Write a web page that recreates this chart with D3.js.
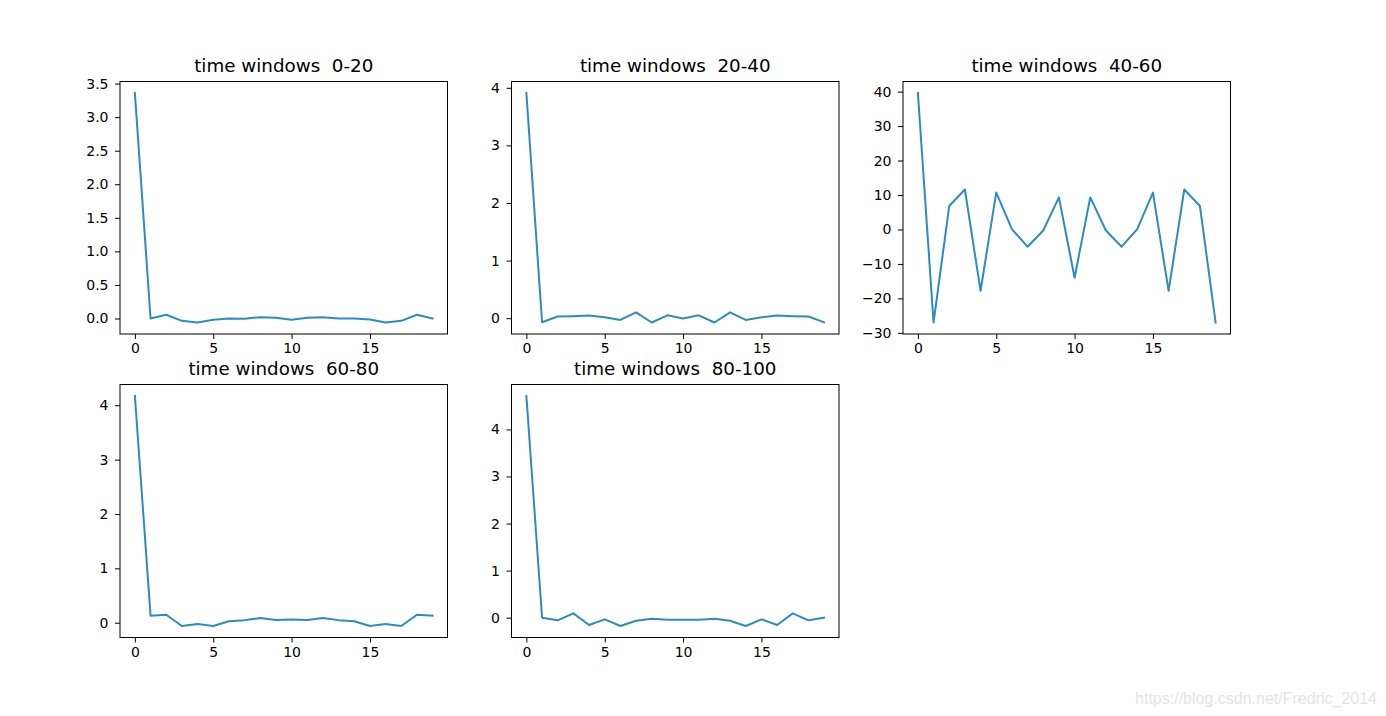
<!DOCTYPE html>
<html>
<head>
<meta charset="utf-8">
<script src="https://cdn.jsdelivr.net/npm/d3@7"></script>
<style>
  html, body { margin: 0; padding: 0; background: #fff; }
  svg { display: block; }
  .ttl { white-space: pre; }
</style>
</head>
<body>
<svg id="chart" width="1386" height="716"></svg>
<script>
// ---- data ----
const xIndex = d3.range(20);
const titles = ["time windows  0-20", "time windows  20-40", "time windows  40-60", "time windows  60-80", "time windows  80-100"];
const series0 = [3.36, 0.0, 0.055, -0.035, -0.06, -0.02, 0.0, -0.005, 0.02, 0.01, -0.02, 0.01, 0.02, 0.0, 0.0, -0.015, -0.06, -0.035, 0.055, 0.0];
const series1 = [3.91, -0.07, 0.03, 0.035, 0.045, 0.015, -0.03, 0.1, -0.075, 0.05, -0.005, 0.05, -0.075, 0.1, -0.03, 0.015, 0.045, 0.035, 0.03, -0.07];
const series2 = [39.6, -27.0, 6.8, 11.6, -17.8, 10.7, 0.1, -5.0, -0.3, 9.3, -14.0, 9.3, -0.3, -5.0, 0.1, 10.7, -17.8, 11.6, 6.8, -27.0];
const series3 = [4.17, 0.13, 0.147, -0.06, -0.025, -0.06, 0.028, 0.048, 0.086, 0.05, 0.06, 0.05, 0.086, 0.048, 0.028, -0.06, -0.025, -0.06, 0.147, 0.13];
const series4 = [4.71, 0.0, -0.057, 0.092, -0.155, -0.035, -0.177, -0.064, -0.021, -0.042, -0.045, -0.042, -0.021, -0.064, -0.177, -0.035, -0.155, 0.092, -0.057, 0.0];
const allSeries = [series0, series1, series2, series3, series4];
const xTicks = [0, 5, 10, 15];
const yTicks0 = [0, 0.5, 1, 1.5, 2, 2.5, 3, 3.5];
const yTicks1 = [0, 1, 2, 3, 4];
const yTicks2 = [-30, -20, -10, 0, 10, 20, 30, 40];
const yTicks3 = [0, 1, 2, 3, 4];
const yTicks4 = [0, 1, 2, 3, 4];
const allYTicks = [yTicks0, yTicks1, yTicks2, yTicks3, yTicks4];
const yFormats = [d3.format(".1f"), d3.format("d"), d3.format("d"), d3.format("d"), d3.format("d")];
const watermark = "https://blog.csdn.net/Fredric_2014";

// ---- layout ----
const panels = [
  { left: 120, top: 81.5, right: 447.5, bottom: 334 },
  { left: 511.5, top: 81.5, right: 839, bottom: 334 },
  { left: 903, top: 81.5, right: 1230.5, bottom: 334 },
  { left: 120, top: 384.5, right: 447.5, bottom: 637.5 },
  { left: 511.5, top: 384.5, right: 839, bottom: 637.5 }
];
const lineColor = "#2b8cc4";
const font = "'DejaVu Sans', sans-serif";
const tickLen = 5;

const svg = d3.select("#chart");

panels.forEach((p, i) => {
  const data = allSeries[i];
  const ext = d3.extent(data);
  const span = ext[1] - ext[0];
  const x = d3.scaleLinear().domain([-0.95, 19.95]).range([p.left, p.right]);
  const y = d3.scaleLinear().domain([ext[0] - 0.05 * span, ext[1] + 0.05 * span]).range([p.bottom, p.top]);

  const g = svg.append("g");

  // line
  const line = d3.line().x((d, k) => x(xIndex[k])).y(d => y(d));
  g.append("path")
    .datum(data)
    .attr("d", line)
    .attr("fill", "none")
    .attr("stroke", lineColor)
    .attr("stroke-width", 2)
    .attr("stroke-linejoin", "round")
    .attr("stroke-linecap", "square");

  // x axis
  const xAxis = d3.axisBottom(x).tickValues(xTicks).tickSize(tickLen).tickPadding(4.5).tickFormat(d3.format("d"));
  const gx = g.append("g").attr("transform", `translate(0,${p.bottom})`).call(xAxis);
  gx.select(".domain").remove();

  // y axis
  const yAxis = d3.axisLeft(y).tickValues(allYTicks[i]).tickSize(tickLen).tickPadding(6.5)
    .tickFormat(v => yFormats[i](v).replace("-", "\u2212"));
  const gy = g.append("g").attr("transform", `translate(${p.left},0)`).call(yAxis);
  gy.select(".domain").remove();

  [gx, gy].forEach(a => {
    a.selectAll("text").attr("font-family", font).attr("font-size", 14).attr("fill", "#000");
    a.selectAll("line").attr("stroke", "#000").attr("stroke-width", 1);
  });

  // frame
  g.append("rect")
    .attr("x", p.left).attr("y", p.top)
    .attr("width", p.right - p.left).attr("height", p.bottom - p.top)
    .attr("fill", "none").attr("stroke", "#000").attr("stroke-width", 1);

  // title
  g.append("text")
    .attr("class", "ttl")
    .attr("xml:space", "preserve")
    .attr("x", (p.left + p.right) / 2)
    .attr("y", p.top - 9.5)
    .attr("text-anchor", "middle")
    .attr("font-family", font)
    .attr("font-size", 18.3)
    .attr("fill", "#000")
    .text(titles[i]);
});

svg.append("text")
  .attr("x", 1377).attr("y", 704)
  .attr("text-anchor", "end")
  .attr("font-family", "'Liberation Sans', Arial, sans-serif")
  .attr("font-size", 16)
  .attr("fill", "#e4e4e4")
  .text(watermark);
</script>
</body>
</html>
